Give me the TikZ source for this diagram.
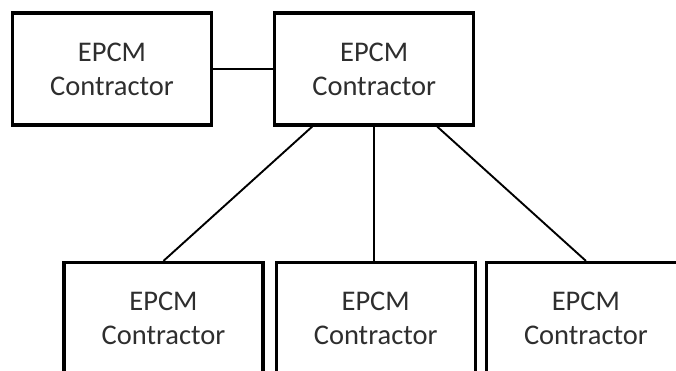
\documentclass[tikz,border=0pt]{standalone}
\usepackage{fontspec}
\setmainfont{Carlito}
\usepackage{tikz}
\usetikzlibrary{positioning}

\begin{document}
\begin{tikzpicture}
	[x=1pt,y=-1pt,
	bx/.style={draw=black,line width=3.2pt,minimum width=199pt,minimum height=112pt,
	align=center,text=black!82,font=\fontsize{28.5}{34}\selectfont},
	ln/.style={draw=black,line width=1.9pt}]
	\useasboundingbox (0,0) rectangle (676,371);
	\clip (0,0) rectangle (676,371);
	%%%%% TOP ROW
	\node[bx] (ctrA) at (112,69) {EPCM\\Contractor};
	\node[bx,right=60pt of ctrA] (ctrB) {EPCM\\Contractor};
	%%%%% BOTTOM ROW
	\node[bx] (ctrC) at (163.5,318.5) {EPCM\\Contractor};
	\node[bx,right=10pt of ctrC] (ctrD) {EPCM\\Contractor};
	\node[bx,right=8pt of ctrD] (ctrE) {EPCM\\Contractor};
	%%%%% LINKS
	\path[ln] (ctrA) -- (ctrB);
	\path[ln] ([xshift=-62pt]ctrB.south) -- (ctrC.north);
	\path[ln] (ctrB.south) -- (ctrB.south |- ctrD.north);
	\path[ln] ([xshift=63pt]ctrB.south) -- (ctrE.north);
\end{tikzpicture}
\end{document}
